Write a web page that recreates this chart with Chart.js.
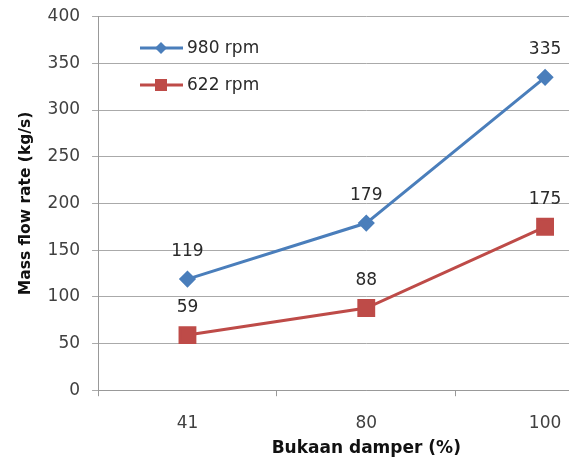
<!DOCTYPE html>
<html>
<head>
<meta charset="UTF-8">
<title>Mass flow rate vs bukaan damper</title>
<script src="https://cdn.jsdelivr.net/npm/chart.js@4"></script>
<style>
  body { margin: 0; background: #fff; }
  #wrap { width: 569px; height: 459px; overflow: hidden; }
</style>
</head>
<body>
<div id="wrap">
  <canvas id="myChart" width="648" height="459"></canvas>
</div>
<script>
var categories = ['41', '80', '100'];
var rpm980 = [119, 179, 335];
var rpm622 = [59, 88, 175];
var seriesNames = ['980 rpm', '622 rpm'];
var blue = '#4a7ebb';
var red = '#be4b48';
var textColor = '#404040';
var fontFam = '"DejaVu Sans", Verdana, sans-serif';

// value labels above each point
var valueLabels = {
  id: 'valueLabels',
  afterDatasetsDraw: function(chart) {
    var ctx = chart.ctx;
    ctx.save();
    ctx.font = '17px ' + fontFam;
    ctx.fillStyle = '#2a2a2a';
    ctx.textAlign = 'center';
    ctx.textBaseline = 'bottom';
    chart.data.datasets.forEach(function(ds, i) {
      chart.getDatasetMeta(i).data.forEach(function(pt, j) {
        ctx.fillText(ds.data[j], pt.x, pt.y - 19);
      });
    });
    ctx.restore();
  }
};

// legend drawn inside the plot, top left
var insideLegend = {
  id: 'insideLegend',
  afterDraw: function(chart) {
    var ctx = chart.ctx;
    var x0 = 140, rows = [48, 85];
    chart.data.datasets.forEach(function(ds, i) {
      var y = rows[i];
      ctx.save();
      ctx.strokeStyle = ds.borderColor;
      ctx.lineWidth = 3;
      ctx.beginPath();
      ctx.moveTo(x0, y);
      ctx.lineTo(x0 + 43, y);
      ctx.stroke();
      ctx.fillStyle = ds.backgroundColor;
      if (ds.pointStyle === 'rectRot') {
        ctx.beginPath();
        ctx.moveTo(x0 + 21, y - 6);
        ctx.lineTo(x0 + 27, y);
        ctx.lineTo(x0 + 21, y + 6);
        ctx.lineTo(x0 + 15, y);
        ctx.closePath();
        ctx.fill();
      } else {
        ctx.fillRect(x0 + 15, y - 6, 12, 12);
      }
      ctx.fillStyle = '#2a2a2a';
      ctx.font = '17px ' + fontFam;
      ctx.textBaseline = 'middle';
      ctx.fillText(ds.label, x0 + 47, y + 1);
      ctx.restore();
    });
  }
};

var ctx = document.getElementById('myChart').getContext('2d');
var chart = new Chart(ctx, {
  type: 'line',
  data: {
    labels: categories,
    datasets: [{
      label: seriesNames[0],
      data: rpm980,
      borderColor: blue,
      backgroundColor: blue,
      borderWidth: 3,
      pointStyle: 'rectRot',
      pointRadius: 6.5,
      pointHoverRadius: 6.5
    }, {
      label: seriesNames[1],
      data: rpm622,
      borderColor: red,
      backgroundColor: red,
      borderWidth: 3,
      pointStyle: 'rect',
      pointRadius: 10.5,
      pointHoverRadius: 10.5
    }]
  },
  options: {
    responsive: false,
    animation: false,
    layout: { padding: { left: 17, right: 5, top: 0, bottom: 0 } },
    plugins: {
      legend: { display: false },
      tooltip: { enabled: false }
    },
    scales: {
      x: {
        offset: true,
        grid: { display: true, drawOnChartArea: false, drawTicks: true, tickLength: 6, offset: true, color: '#999' },
        border: { color: '#999' },
        ticks: { color: textColor, font: { size: 17, family: fontFam }, padding: 17 },
        title: { display: true, text: 'Bukaan damper (%)', color: '#111', font: { size: 17, weight: 'bold', family: fontFam }, padding: { top: -12, bottom: 0 } }
      },
      y: {
        min: 0,
        max: 400,
        ticks: { stepSize: 50, color: textColor, font: { size: 17, family: fontFam, lineHeight: 0.55 }, padding: 12 },
        grid: { color: '#aaa', tickLength: 6 },
        border: { color: '#999' },
        title: { display: true, text: 'Mass flow rate (kg/s)', color: '#111', font: { size: 15.5, weight: 'bold', family: fontFam }, padding: { top: 0, bottom: 0 } }
      }
    }
  },
  plugins: [valueLabels, insideLegend]
});
</script>
</body>
</html>
